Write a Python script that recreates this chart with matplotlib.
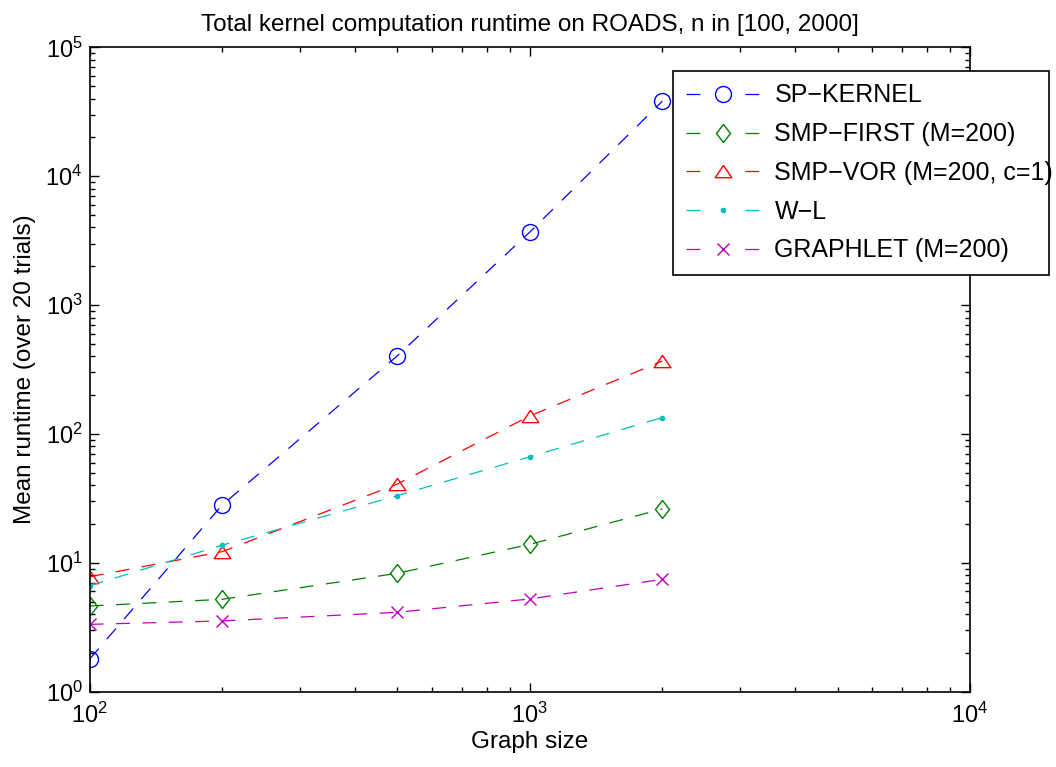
import matplotlib
matplotlib.use("Agg")
import matplotlib.pyplot as plt
from matplotlib.ticker import LogLocator, NullFormatter

plt.rcParams["font.family"] = ["Liberation Sans", "DejaVu Sans"]
plt.rcParams["mathtext.fontset"] = "custom"
plt.rcParams["mathtext.rm"] = "Liberation Sans"
plt.rcParams["lines.scale_dashes"] = False

graph_sizes = [100, 200, 500, 1000, 2000]

sp_kernel = [1.79, 28.1, 404, 3690, 38200]
smp_first = [4.62, 5.21, 8.29, 13.9, 26.2]
smp_vor = [7.8, 12.2, 40.9, 138, 368]
wl_kernel = [6.64, 13.7, 33.2, 66.5, 134]
graphlet = [3.33, 3.54, 4.13, 5.24, 7.45]

labels = [
    "SP\u2212KERNEL",
    "SMP\u2212FIRST (M=200)",
    "SMP\u2212VOR (M=200, c=1)",
    "W\u2212L",
    "GRAPHLET (M=200)",
]

# MATLAB-like marker shapes: tall diamond, wide triangle
diamond = [(0, 1), (0.78, 0), (0, -1), (-0.78, 0), (0, 1)]
triangle = [(0, 0.74), (1, -0.74), (-1, -0.74), (0, 0.74)]

series = [
    (sp_kernel, "b", "o", 11.5, "none"),
    (smp_first, "g", diamond, 13, "none"),
    (smp_vor, "r", triangle, 12, "none"),
    (wl_kernel, "c", "o", 3, "c"),
    (graphlet, "m", "x", 8, "none"),
]

fig = plt.figure(figsize=(10.56, 7.67), dpi=100)
ax = fig.add_axes([0.0849, 0.0982, 0.8337, 0.8401])

for (vals, color, marker, size, face), label in zip(series, labels):
    ax.plot(graph_sizes, vals, color=color, linestyle="--", dashes=(10, 9),
            linewidth=0.9, marker=marker, markersize=size,
            markerfacecolor=face, markeredgecolor=color,
            markeredgewidth=1.0, label=label)

ax.set_xscale("log")
ax.set_yscale("log")
ax.set_xlim(100, 10000)
ax.set_ylim(1, 1e5)

ax.xaxis.set_minor_locator(LogLocator(base=10, subs=range(2, 10)))
ax.yaxis.set_minor_locator(LogLocator(base=10, subs=range(2, 10), numticks=20))
ax.xaxis.set_minor_formatter(NullFormatter())
ax.yaxis.set_minor_formatter(NullFormatter())

ax.tick_params(which="both", direction="in", top=True, right=True,
               labelsize=17, width=1.0)
ax.tick_params(which="major", length=6.5)
ax.tick_params(axis="y", which="major", pad=5)
ax.tick_params(axis="x", which="major", pad=8)
ax.tick_params(which="minor", length=3.5)
for sp in ax.spines.values():
    sp.set_linewidth(1.2)

ax.set_title("Total kernel computation runtime on ROADS, n in [100, 2000]",
             fontsize=17.5, pad=12)
ax.set_xlabel("Graph size", fontsize=17.5, labelpad=2)
ax.set_ylabel("Mean runtime (over 20 trials)", fontsize=17.5, labelpad=7)

# legend box sticks out past the right edge of the axes
leg_box = (673 / 1056, 1 - 272 / 767, 376 / 1056, 201 / 767)
leg = ax.legend(loc="upper left", bbox_to_anchor=leg_box, mode="expand",
                bbox_transform=fig.transFigure, fontsize=18, frameon=True,
                fancybox=False, edgecolor="black", framealpha=1,
                handlelength=2.96, numpoints=1, labelspacing=0.59,
                borderpad=0.5, handletextpad=0.6, borderaxespad=0)
leg.get_frame().set_linewidth(1.2)
for line in leg.get_lines():
    line.set_dashes((10, 32.4))

fig.savefig("out.png", dpi=100)
